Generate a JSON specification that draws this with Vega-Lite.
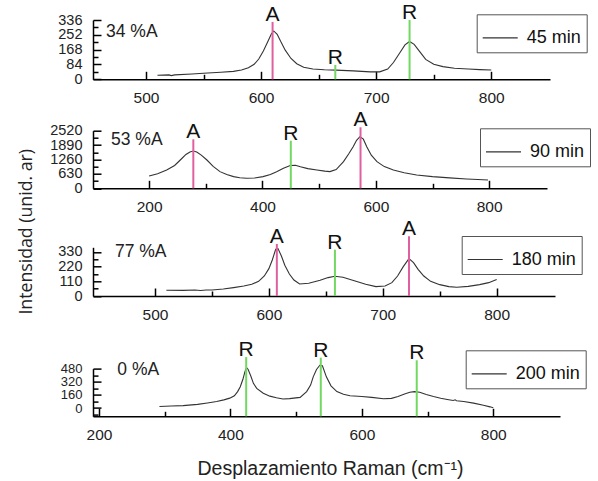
{
  "$schema": "https://vega.github.io/schema/vega-lite/v6.json",
  "padding": {"left": 16, "top": 2, "right": 5, "bottom": 5},
  "background": "white",
  "datasets": {
    "s1": [
      {"x":510,"y":23,"t":"45 min"},{"x":520,"y":25,"t":"45 min"},{"x":522,"y":21,"t":"45 min"},{"x":525,"y":25,"t":"45 min"},{"x":540,"y":30,"t":"45 min"},{"x":550,"y":34,"t":"45 min"},{"x":565,"y":40,"t":"45 min"},{"x":576,"y":45,"t":"45 min"},{"x":583,"y":53,"t":"45 min"},{"x":589,"y":66,"t":"45 min"},{"x":594,"y":85,"t":"45 min"},{"x":598,"y":115,"t":"45 min"},{"x":602,"y":160,"t":"45 min"},{"x":606,"y":215,"t":"45 min"},{"x":609,"y":258,"t":"45 min"},{"x":611,"y":274,"t":"45 min"},{"x":614,"y":255,"t":"45 min"},{"x":617,"y":215,"t":"45 min"},{"x":621,"y":165,"t":"45 min"},{"x":626,"y":118,"t":"45 min"},{"x":631,"y":88,"t":"45 min"},{"x":637,"y":68,"t":"45 min"},{"x":645,"y":58,"t":"45 min"},{"x":655,"y":54,"t":"45 min"},{"x":665,"y":52,"t":"45 min"},{"x":680,"y":48,"t":"45 min"},{"x":695,"y":42,"t":"45 min"},{"x":703,"y":42,"t":"45 min"},{"x":710,"y":58,"t":"45 min"},{"x":715,"y":95,"t":"45 min"},{"x":720,"y":145,"t":"45 min"},{"x":725,"y":195,"t":"45 min"},{"x":729,"y":214,"t":"45 min"},{"x":733,"y":198,"t":"45 min"},{"x":738,"y":155,"t":"45 min"},{"x":743,"y":113,"t":"45 min"},{"x":750,"y":85,"t":"45 min"},{"x":758,"y":72,"t":"45 min"},{"x":768,"y":63,"t":"45 min"},{"x":780,"y":58,"t":"45 min"},{"x":790,"y":55,"t":"45 min"},{"x":800,"y":53,"t":"45 min"}
    ],
    "s2": [
      {"x":200,"y":538,"t":"90 min"},{"x":215,"y":640,"t":"90 min"},{"x":231,"y":800,"t":"90 min"},{"x":245,"y":1000,"t":"90 min"},{"x":255,"y":1238,"t":"90 min"},{"x":265,"y":1480,"t":"90 min"},{"x":272,"y":1590,"t":"90 min"},{"x":278,"y":1632,"t":"90 min"},{"x":284,"y":1590,"t":"90 min"},{"x":292,"y":1450,"t":"90 min"},{"x":302,"y":1238,"t":"90 min"},{"x":313,"y":960,"t":"90 min"},{"x":325,"y":729,"t":"90 min"},{"x":337,"y":600,"t":"90 min"},{"x":349,"y":510,"t":"90 min"},{"x":360,"y":460,"t":"90 min"},{"x":372,"y":437,"t":"90 min"},{"x":386,"y":450,"t":"90 min"},{"x":401,"y":510,"t":"90 min"},{"x":414,"y":600,"t":"90 min"},{"x":425,"y":729,"t":"90 min"},{"x":437,"y":880,"t":"90 min"},{"x":449,"y":1000,"t":"90 min"},{"x":458,"y":1010,"t":"90 min"},{"x":467,"y":945,"t":"90 min"},{"x":480,"y":860,"t":"90 min"},{"x":496,"y":800,"t":"90 min"},{"x":510,"y":750,"t":"90 min"},{"x":519,"y":729,"t":"90 min"},{"x":530,"y":820,"t":"90 min"},{"x":543,"y":1166,"t":"90 min"},{"x":552,"y":1500,"t":"90 min"},{"x":560,"y":1820,"t":"90 min"},{"x":566,"y":2100,"t":"90 min"},{"x":572,"y":2258,"t":"90 min"},{"x":578,"y":2150,"t":"90 min"},{"x":584,"y":1820,"t":"90 min"},{"x":592,"y":1450,"t":"90 min"},{"x":602,"y":1165,"t":"90 min"},{"x":615,"y":950,"t":"90 min"},{"x":631,"y":800,"t":"90 min"},{"x":650,"y":680,"t":"90 min"},{"x":672,"y":582,"t":"90 min"},{"x":700,"y":510,"t":"90 min"},{"x":730,"y":455,"t":"90 min"},{"x":760,"y":408,"t":"90 min"},{"x":780,"y":385,"t":"90 min"},{"x":798,"y":363,"t":"90 min"}
    ],
    "s3": [
      {"x":510,"y":43,"t":"180 min"},{"x":525,"y":42,"t":"180 min"},{"x":535,"y":45,"t":"180 min"},{"x":540,"y":41,"t":"180 min"},{"x":545,"y":45,"t":"180 min"},{"x":550,"y":45,"t":"180 min"},{"x":560,"y":52,"t":"180 min"},{"x":569,"y":63,"t":"180 min"},{"x":578,"y":75,"t":"180 min"},{"x":585,"y":88,"t":"180 min"},{"x":591,"y":110,"t":"180 min"},{"x":596,"y":150,"t":"180 min"},{"x":600,"y":205,"t":"180 min"},{"x":603,"y":270,"t":"180 min"},{"x":606,"y":350,"t":"180 min"},{"x":608,"y":355,"t":"180 min"},{"x":611,"y":300,"t":"180 min"},{"x":614,"y":230,"t":"180 min"},{"x":618,"y":165,"t":"180 min"},{"x":622,"y":120,"t":"180 min"},{"x":627,"y":90,"t":"180 min"},{"x":635,"y":95,"t":"180 min"},{"x":645,"y":118,"t":"180 min"},{"x":652,"y":138,"t":"180 min"},{"x":658,"y":148,"t":"180 min"},{"x":665,"y":140,"t":"180 min"},{"x":675,"y":115,"t":"180 min"},{"x":685,"y":88,"t":"180 min"},{"x":694,"y":70,"t":"180 min"},{"x":702,"y":75,"t":"180 min"},{"x":708,"y":100,"t":"180 min"},{"x":713,"y":150,"t":"180 min"},{"x":718,"y":220,"t":"180 min"},{"x":723,"y":280,"t":"180 min"},{"x":727,"y":250,"t":"180 min"},{"x":731,"y":200,"t":"180 min"},{"x":736,"y":150,"t":"180 min"},{"x":742,"y":110,"t":"180 min"},{"x":750,"y":85,"t":"180 min"},{"x":758,"y":70,"t":"180 min"},{"x":765,"y":66,"t":"180 min"},{"x":775,"y":72,"t":"180 min"},{"x":785,"y":85,"t":"180 min"},{"x":793,"y":100,"t":"180 min"},{"x":800,"y":124,"t":"180 min"}
    ],
    "s4": [
      {"x":292,"y":19,"t":"200 min"},{"x":310,"y":25,"t":"200 min"},{"x":328,"y":30,"t":"200 min"},{"x":350,"y":45,"t":"200 min"},{"x":365,"y":62,"t":"200 min"},{"x":379,"y":80,"t":"200 min"},{"x":390,"y":100,"t":"200 min"},{"x":399,"y":121,"t":"200 min"},{"x":406,"y":150,"t":"200 min"},{"x":411,"y":200,"t":"200 min"},{"x":415,"y":260,"t":"200 min"},{"x":419,"y":350,"t":"200 min"},{"x":422,"y":440,"t":"200 min"},{"x":424.5,"y":492,"t":"200 min"},{"x":427,"y":470,"t":"200 min"},{"x":431,"y":390,"t":"200 min"},{"x":435,"y":301,"t":"200 min"},{"x":440,"y":240,"t":"200 min"},{"x":450,"y":181,"t":"200 min"},{"x":460,"y":145,"t":"200 min"},{"x":470,"y":125,"t":"200 min"},{"x":480,"y":110,"t":"200 min"},{"x":490,"y":115,"t":"200 min"},{"x":506,"y":130,"t":"200 min"},{"x":516,"y":200,"t":"200 min"},{"x":522,"y":280,"t":"200 min"},{"x":526,"y":380,"t":"200 min"},{"x":531,"y":470,"t":"200 min"},{"x":536,"y":521,"t":"200 min"},{"x":540,"y":515,"t":"200 min"},{"x":546,"y":380,"t":"200 min"},{"x":553,"y":270,"t":"200 min"},{"x":562,"y":200,"t":"200 min"},{"x":572,"y":168,"t":"200 min"},{"x":582,"y":149,"t":"200 min"},{"x":600,"y":140,"t":"200 min"},{"x":615,"y":130,"t":"200 min"},{"x":633,"y":113,"t":"200 min"},{"x":645,"y":118,"t":"200 min"},{"x":655,"y":140,"t":"200 min"},{"x":665,"y":170,"t":"200 min"},{"x":673,"y":192,"t":"200 min"},{"x":680,"y":200,"t":"200 min"},{"x":688,"y":192,"t":"200 min"},{"x":698,"y":165,"t":"200 min"},{"x":709,"y":140,"t":"200 min"},{"x":720,"y":120,"t":"200 min"},{"x":730,"y":105,"t":"200 min"},{"x":739,"y":92,"t":"200 min"},{"x":742,"y":100,"t":"200 min"},{"x":744,"y":90,"t":"200 min"},{"x":755,"y":80,"t":"200 min"},{"x":770,"y":60,"t":"200 min"},{"x":785,"y":35,"t":"200 min"},{"x":795,"y":15,"t":"200 min"},{"x":800,"y":4,"t":"200 min"}
    ],
    "p1": [{"x":610,"top":325,"kind":"A"},{"x":664.5,"top":81,"kind":"R"},{"x":729,"top":336,"kind":"R"}],
    "p2": [{"x":278,"top":2144,"kind":"A"},{"x":450,"top":2082,"kind":"R"},{"x":573,"top":2669,"kind":"A"}],
    "p3": [{"x":607,"top":390,"kind":"A"},{"x":658,"top":347,"kind":"R"},{"x":723,"top":448,"kind":"A"}],
    "p4": [{"x":424,"top":620,"kind":"R"},{"x":537.5,"top":613,"kind":"R"},{"x":683.5,"top":581,"kind":"R"}],
    "n1": [{"x":465.3,"y":242,"label":"34 %A"}],
    "n2": [{"x":132.8,"y":1894,"label":"53 %A"}],
    "n3": [{"x":464.9,"y":294,"label":"77 %A"}],
    "n4": [{"x":227.9,"y":407,"label":"0 %A"}]
  },
  "vconcat": [
    {
      "vconcat": [
        {
          "width": 457, "height": 59.3,
          "layer": [
            {"data": {"name": "s1"}, "mark": {"type": "line", "strokeWidth": 1.1},
             "encoding": {
               "x": {"field": "x", "type": "quantitative", "scale": {"domain": [454, 851], "nice": false, "zero": false}, "axis": {"orient": "bottom", "values": [500, 600, 700, 800], "tickSize": -8, "labelPadding": 19, "title": null}},
               "y": {"field": "y", "type": "quantitative", "scale": {"domain": [0, 336], "nice": false}, "axis": {"orient": "left", "values": [0, 84, 168, 252, 336], "format": "d", "tickSize": -8, "labelPadding": 19, "labelFontSize": 14.5, "title": null}},
               "color": {"field": "t", "type": "nominal", "scale": {"range": ["#333333"]}, "legend": {"orient": "none", "legendX": 383.7, "legendY": -5.7}}
             }},
            {"data": {"name": "p1"}, "mark": {"type": "rule", "strokeWidth": 2},
             "encoding": {
               "x": {"field": "x", "type": "quantitative", "axis": {"orient": "bottom", "values": [550, 650, 750], "tickSize": -5, "labels": false, "domain": false, "title": null}},
               "y": {"field": "top", "type": "quantitative", "axis": {"orient": "left", "values": [42, 126, 210, 294], "tickSize": -5, "labels": false, "domain": false, "title": null}},
               "y2": {"datum": 0},
               "stroke": {"field": "kind", "type": "nominal", "scale": {"domain": ["A", "R"], "range": ["#e0609f", "#72d862"]}, "legend": null}
             }},
            {"data": {"name": "p1"}, "mark": {"type": "text", "baseline": "alphabetic", "align": "center", "fontSize": 21, "font": "Liberation Sans", "color": "#111", "dy": -1},
             "encoding": {
               "x": {"field": "x", "type": "quantitative", "axis": null},
               "y": {"field": "top", "type": "quantitative", "axis": null},
               "text": {"field": "kind"}
             }},
            {"data": {"name": "n1"}, "mark": {"type": "text", "baseline": "alphabetic", "align": "left", "fontSize": 17.5, "font": "Liberation Sans", "color": "#222"},
             "encoding": {
               "x": {"field": "x", "type": "quantitative", "axis": null},
               "y": {"field": "y", "type": "quantitative", "axis": null},
               "text": {"field": "label"}
             }}
          ],
          "resolve": {"axis": {"x": "independent", "y": "independent"}}
        },
        {
          "width": 454, "height": 57.6,
          "layer": [
            {"data": {"name": "s2"}, "mark": {"type": "line", "strokeWidth": 1.1},
             "encoding": {
               "x": {"field": "x", "type": "quantitative", "scale": {"domain": [101, 902], "nice": false, "zero": false}, "axis": {"orient": "bottom", "values": [200, 400, 600, 800], "tickSize": -8, "labelPadding": 19, "title": null}},
               "y": {"field": "y", "type": "quantitative", "scale": {"domain": [0, 2520], "nice": false}, "axis": {"orient": "left", "values": [0, 630, 1260, 1890, 2520], "format": "d", "tickSize": -8, "labelPadding": 19, "labelFontSize": 14.5, "title": null}},
               "color": {"field": "t", "type": "nominal", "scale": {"range": ["#333333"]}, "legend": {"orient": "none", "legendX": 387, "legendY": -2.4}}
             }},
            {"data": {"name": "p2"}, "mark": {"type": "rule", "strokeWidth": 2},
             "encoding": {
               "x": {"field": "x", "type": "quantitative", "axis": {"orient": "bottom", "values": [300, 500, 700], "tickSize": -5, "labels": false, "domain": false, "title": null}},
               "y": {"field": "top", "type": "quantitative", "axis": {"orient": "left", "values": [315, 945, 1575, 2205], "tickSize": -5, "labels": false, "domain": false, "title": null}},
               "y2": {"datum": 0},
               "stroke": {"field": "kind", "type": "nominal", "scale": {"domain": ["A", "R"], "range": ["#e0609f", "#72d862"]}, "legend": null}
             }},
            {"data": {"name": "p2"}, "mark": {"type": "text", "baseline": "alphabetic", "align": "center", "fontSize": 21, "font": "Liberation Sans", "color": "#111", "dy": -1},
             "encoding": {
               "x": {"field": "x", "type": "quantitative", "axis": null},
               "y": {"field": "top", "type": "quantitative", "axis": null},
               "text": {"field": "kind"}
             }},
            {"data": {"name": "n2"}, "mark": {"type": "text", "baseline": "alphabetic", "align": "left", "fontSize": 17.5, "font": "Liberation Sans", "color": "#222"},
             "encoding": {
               "x": {"field": "x", "type": "quantitative", "axis": null},
               "y": {"field": "y", "type": "quantitative", "axis": null},
               "text": {"field": "label"}
             }}
          ],
          "resolve": {"axis": {"x": "independent", "y": "independent"}}
        }
      ],
      "spacing": 50.7,
      "bounds": "flush",
      "resolve": {"scale": {"color": "independent", "stroke": "independent"}, "legend": {"color": "independent"}}
    },
    {
      "vconcat": [
        {
          "width": 462, "height": 48.7,
          "layer": [
            {"data": {"name": "s3"}, "mark": {"type": "line", "strokeWidth": 1.1},
             "encoding": {
               "x": {"field": "x", "type": "quantitative", "scale": {"domain": [445.6, 851.2], "nice": false, "zero": false}, "axis": {"orient": "bottom", "values": [500, 600, 700, 800], "tickSize": -8, "labelPadding": 19, "title": null}},
               "y": {"field": "y", "type": "quantitative", "scale": {"domain": [0, 365], "nice": false}, "axis": {"orient": "left", "values": [0, 110, 220, 330], "format": "d", "tickSize": -8, "labelPadding": 19, "labelFontSize": 14.5, "title": "Intensidad (unid. ar)", "titleFont": "Open Sans", "titleFontSize": 17.7, "titleFontWeight": "normal", "titleColor": "#222", "titleX": -62, "titleY": -16, "titleAngle": 270, "titleAlign": "center", "titleBaseline": "alphabetic"}},
               "color": {"field": "t", "type": "nominal", "scale": {"range": ["#333333"]}, "legend": {"orient": "none", "legendX": 368.7, "legendY": -11.3}}
             }},
            {"data": {"name": "p3"}, "mark": {"type": "rule", "strokeWidth": 2},
             "encoding": {
               "x": {"field": "x", "type": "quantitative", "axis": {"orient": "bottom", "values": [550, 650, 750], "tickSize": -5, "labels": false, "domain": false, "title": null}},
               "y": {"field": "top", "type": "quantitative", "axis": {"orient": "left", "values": [55, 165, 275], "tickSize": -5, "labels": false, "domain": false, "title": null}},
               "y2": {"datum": 0},
               "stroke": {"field": "kind", "type": "nominal", "scale": {"domain": ["A", "R"], "range": ["#e0609f", "#72d862"]}, "legend": null}
             }},
            {"data": {"name": "p3"}, "mark": {"type": "text", "baseline": "alphabetic", "align": "center", "fontSize": 21, "font": "Liberation Sans", "color": "#111", "dy": -1},
             "encoding": {
               "x": {"field": "x", "type": "quantitative", "axis": null},
               "y": {"field": "top", "type": "quantitative", "axis": null},
               "text": {"field": "kind"}
             }},
            {"data": {"name": "n3"}, "mark": {"type": "text", "baseline": "alphabetic", "align": "left", "fontSize": 17.5, "font": "Liberation Sans", "color": "#222"},
             "encoding": {
               "x": {"field": "x", "type": "quantitative", "axis": null},
               "y": {"field": "y", "type": "quantitative", "axis": null},
               "text": {"field": "label"}
             }}
          ],
          "resolve": {"axis": {"x": "independent", "y": "independent"}}
        },
        {
          "width": 467, "height": 47.7,
          "layer": [
            {"data": {"name": "s4"}, "mark": {"type": "line", "strokeWidth": 1.1},
             "encoding": {
               "x": {"field": "x", "type": "quantitative", "scale": {"domain": [190.9, 901.5], "nice": false, "zero": false}, "axis": {"orient": "bottom", "values": [200, 400, 600, 800], "tickSize": -8, "labelPadding": 19, "title": "Desplazamiento Raman (cm⁻¹)", "titleFont": "Liberation Sans", "titleFontSize": 19.5, "titleFontWeight": "normal", "titleColor": "#222", "titleX": 237, "titleY": 58.3, "titleAlign": "center", "titleBaseline": "alphabetic"}},
               "y": {"field": "y", "type": "quantitative", "scale": {"domain": [-100, 480], "nice": false, "zero": false}, "axis": {"orient": "left", "values": [0, 160, 320, 480], "format": "d", "tickSize": -8, "labelPadding": 19, "labelFontSize": 13, "title": null}},
               "color": {"field": "t", "type": "nominal", "scale": {"range": ["#333333"]}, "legend": {"orient": "none", "legendX": 372.7, "legendY": -18.3}}
             }},
            {"data": {"name": "p4"}, "mark": {"type": "rule", "strokeWidth": 2},
             "encoding": {
               "x": {"field": "x", "type": "quantitative", "axis": {"orient": "bottom", "values": [300, 500, 700], "tickSize": -5, "labels": false, "domain": false, "title": null}},
               "y": {"field": "top", "type": "quantitative", "axis": {"orient": "left", "values": [-80, 80, 240, 400], "tickSize": -5, "labels": false, "domain": false, "title": null}},
               "y2": {"datum": -100},
               "stroke": {"field": "kind", "type": "nominal", "scale": {"domain": ["A", "R"], "range": ["#e0609f", "#72d862"]}, "legend": null}
             }},
            {"data": {"name": "p4"}, "mark": {"type": "text", "baseline": "alphabetic", "align": "center", "fontSize": 21, "font": "Liberation Sans", "color": "#111", "dy": -1},
             "encoding": {
               "x": {"field": "x", "type": "quantitative", "axis": null},
               "y": {"field": "top", "type": "quantitative", "axis": null},
               "text": {"field": "kind"}
             }},
            {"data": {"name": "n4"}, "mark": {"type": "text", "baseline": "alphabetic", "align": "left", "fontSize": 17.5, "font": "Liberation Sans", "color": "#222"},
             "encoding": {
               "x": {"field": "x", "type": "quantitative", "axis": null},
               "y": {"field": "y", "type": "quantitative", "axis": null},
               "text": {"field": "label"}
             }}
          ],
          "resolve": {"axis": {"x": "independent", "y": "independent"}}
        }
      ],
      "spacing": 72.3,
      "bounds": "flush",
      "resolve": {"scale": {"color": "independent", "stroke": "independent"}, "legend": {"color": "independent"}}
    }
  ],
  "spacing": 227.3,
  "bounds": "flush",
  "resolve": {"scale": {"color": "independent", "stroke": "independent"}, "legend": {"color": "independent"}},
  "config": {
    "view": {"stroke": null},
    "font": "Liberation Sans",
    "axis": {"grid": false, "domainColor": "#000000", "domainWidth": 1.5, "tickColor": "#000000", "tickWidth": 1.5, "labelFont": "Liberation Sans", "labelFontSize": 15.5, "labelColor": "#222222", "labelFlush": false, "labelOverlap": false},
    "legend": {"title": null, "symbolType": "stroke", "symbolSize": 1225, "symbolStrokeWidth": 1.2, "labelFont": "Liberation Sans", "labelFontSize": 18, "labelColor": "#111111", "labelOffset": 8, "padding": 5, "strokeColor": "#555555", "fillColor": "#ffffff", "cornerRadius": 0}
  }
}
